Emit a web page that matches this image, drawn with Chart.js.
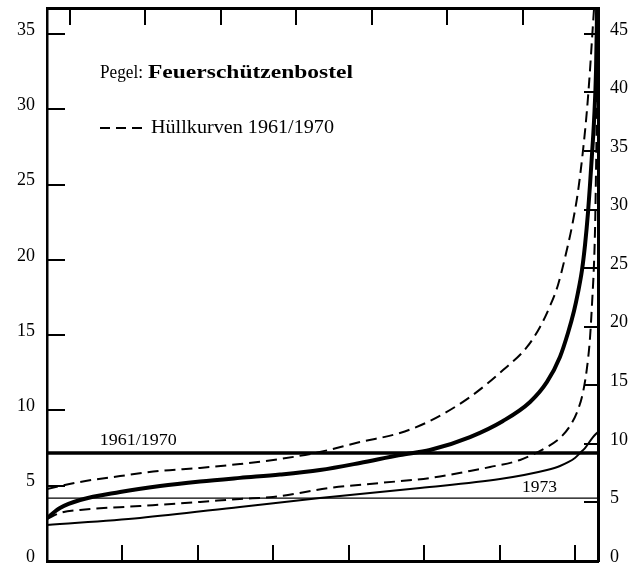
<!DOCTYPE html>
<html>
<head>
<meta charset="utf-8">
<script src="https://cdn.jsdelivr.net/npm/chart.js@4.4.0/dist/chart.umd.min.js"></script>
<style>
  html, body { margin: 0; padding: 0; background: #fff; }
  #wrap { width: 639px; height: 565px; }
</style>
</head>
<body>
<div id="wrap"><canvas id="chart" width="639" height="565"></canvas></div>
<script>
// Dauerlinien Pegel Feuerschützenbostel, x = Tage im Jahr, y = Abfluss (linke Achse)

const meanDays = [0, 8.6, 21.9, 48.4, 74.9, 101.4, 127.8, 154.3, 180.8, 207.3, 233.8, 253.7, 280.2, 302.1, 320.0, 331.2, 339.8, 345.1, 349.1, 351.7, 354.4, 356.4, 358.4, 359.7, 361.0, 362.4, 363.7, 364.4];
const meanFlow = [2.86, 3.52, 4.05, 4.58, 4.98, 5.28, 5.52, 5.74, 6.04, 6.51, 7.04, 7.37, 8.23, 9.30, 10.56, 11.89, 13.55, 15.14, 16.60, 17.80, 19.32, 20.98, 23.17, 24.97, 26.96, 29.28, 32.60, 36.72];

const upperDays = [0, 21.9, 48.4, 74.9, 101.4, 127.8, 154.3, 180.8, 207.3, 233.8, 253.7, 280.2, 302.1, 318.0, 326.6, 333.2, 338.5, 343.1, 347.8, 351.7, 355.1, 357.7, 359.7, 361.0, 362.4];
const upperFlow = [4.78, 5.25, 5.64, 5.98, 6.18, 6.44, 6.77, 7.24, 7.90, 8.50, 9.30, 10.89, 12.68, 14.21, 15.54, 16.93, 18.33, 20.12, 22.24, 24.50, 27.29, 29.95, 32.60, 34.60, 36.72];

const lowerDays = [0, 8.6, 21.9, 61.6, 101.4, 127.8, 149.7, 187.5, 220.6, 253.7, 280.2, 293.5, 313.4, 331.2, 339.8, 346.4, 351.7, 355.1, 357.7, 359.7, 361.0, 362.4, 363.1, 363.7, 364.4, 365];
const lowerFlow = [2.79, 3.19, 3.39, 3.65, 3.92, 4.12, 4.25, 4.85, 5.18, 5.51, 5.98, 6.24, 6.71, 7.57, 8.17, 8.96, 10.03, 11.22, 12.82, 14.81, 17.0, 19.85, 22.31, 25.96, 31.27, 36.72];

const days1973 = [0, 61.6, 127.8, 180.8, 247.1, 300.1, 331.2, 339.8, 349.7, 353.1, 356.4, 361.7, 365];
const flow1973 = [2.39, 2.86, 3.59, 4.18, 4.85, 5.44, 6.04, 6.31, 6.84, 7.17, 7.50, 8.23, 8.57];

const meanLine6170 = 7.17;
const meanLine1973 = 4.18;

const leftTicks = [0, 5, 10, 15, 20, 25, 30, 35];
const rightTicks = [0, 5, 10, 15, 20, 25, 30, 35, 40, 45];
const bottomTicks = [50, 100, 150, 200, 250, 300, 350];
const topTicks = [15, 65, 115, 165, 215, 265, 315];

function pts(xs, ys) {
  return xs.map((x, i) => ({ x: x, y: ys[i] }));
}

const serif = '"Liberation Serif", "DejaVu Serif", serif';

// draws inward tick marks, legend and curve labels
const decorations = {
  id: 'decorations',
  afterDraw(chart) {
    const { ctx, chartArea: a, scales } = chart;
    ctx.save();
    ctx.strokeStyle = '#000';
    ctx.fillStyle = '#000';
    ctx.lineWidth = 2;
    const seg = (x1, y1, x2, y2) => {
      ctx.beginPath();
      ctx.moveTo(x1, y1);
      ctx.lineTo(x2, y2);
      ctx.stroke();
    };
    bottomTicks.forEach(d => {
      const x = Math.round(scales.x.getPixelForValue(d));
      seg(x, a.bottom, x, a.bottom - 16);
    });
    topTicks.forEach(d => {
      const x = Math.round(scales.x.getPixelForValue(d));
      seg(x, a.top, x, a.top + 17);
    });
    leftTicks.slice(1).forEach(v => {
      const y = Math.round(scales.y.getPixelForValue(v));
      seg(a.left, y, a.left + 18, y);
    });
    rightTicks.slice(1).forEach(v => {
      const y = Math.round(scales.y2.getPixelForValue(v));
      seg(a.right, y, a.right - 14, y);
    });

    // legend
    const stretched = (text, font, x, y, width) => {
      ctx.font = font;
      const w = ctx.measureText(text).width;
      ctx.save();
      ctx.translate(x, y);
      ctx.scale(width / w, 1);
      ctx.fillText(text, 0, 0);
      ctx.restore();
    };
    ctx.textBaseline = 'middle';
    ctx.textAlign = 'left';
    stretched('Pegel:', '18px ' + serif, 100, 73, 43);
    stretched('Feuerschützenbostel', 'bold 18px ' + serif, 148, 73, 205);
    ctx.setLineDash([10, 6]);
    seg(100, 128, 146, 128);
    ctx.setLineDash([]);
    stretched('Hüllkurven 1961/1970', '18px ' + serif, 151, 128, 183);

    // curve labels
    stretched('1961/1970', '17px ' + serif, scales.x.getPixelForValue(35), scales.y.getPixelForValue(8.0), 77);
    stretched('1973', '17px ' + serif, scales.x.getPixelForValue(314.6), scales.y.getPixelForValue(4.85), 35);
    ctx.restore();
  }
};

const dash = [11, 6];

// fixed box sizes so the plot frame sits where the original has it
function fixBox(size) {
  return s => {
    if (s.isHorizontal()) s.height = size; else s.width = size;
    s.paddingTop = 0;
    s.paddingBottom = 0;
    s.paddingLeft = 0;
    s.paddingRight = 0;
  };
}

new Chart(document.getElementById('chart'), {
  type: 'line',
  data: {
    datasets: [
      { data: pts([0, 365], [meanLine6170, meanLine6170]), borderColor: '#000', borderWidth: 3.5, tension: 0 },
      { data: pts([0, 365], [meanLine1973, meanLine1973]), borderColor: '#000', borderWidth: 1.2, tension: 0 },
      { data: pts(upperDays, upperFlow), borderColor: '#000', borderWidth: 2, borderDash: dash },
      { data: pts(lowerDays, lowerFlow), borderColor: '#000', borderWidth: 2, borderDash: dash },
      { data: pts(days1973, flow1973), borderColor: '#000', borderWidth: 2 },
      { data: pts(meanDays, meanFlow), borderColor: '#000', borderWidth: 4 }
    ]
  },
  options: {
    responsive: false,
    animation: false,
    layout: { padding: 0 },
    elements: {
      point: { radius: 0 },
      line: { cubicInterpolationMode: 'monotone', fill: false }
    },
    plugins: {
      legend: { display: false },
      tooltip: { enabled: false }
    },
    scales: {
      x: {
        type: 'linear',
        position: 'bottom',
        min: 0,
        max: 365,
        ticks: { display: false },
        grid: { display: false },
        border: { display: true, color: '#000', width: 3 },
        afterFit: fixBox(4)
      },
      x2: {
        type: 'linear',
        position: 'top',
        min: 0,
        max: 365,
        ticks: { display: false },
        grid: { display: false },
        border: { display: true, color: '#000', width: 3 },
        afterFit: fixBox(8)
      },
      y: {
        type: 'linear',
        position: 'left',
        min: 0,
        max: 36.72,
        afterBuildTicks: s => { s.ticks = leftTicks.map(v => ({ value: v })); },
        ticks: { color: '#000', padding: 12, labelOffset: -4, font: { family: serif, size: 18 } },
        grid: { display: false, drawTicks: false },
        border: { display: true, color: '#000', width: 2.5 },
        afterFit: fixBox(47)
      },
      y2: {
        type: 'linear',
        position: 'right',
        min: 0,
        max: 47.2,
        afterBuildTicks: s => { s.ticks = rightTicks.map(v => ({ value: v })); },
        ticks: { color: '#000', padding: 12, labelOffset: -4, font: { family: serif, size: 18 } },
        grid: { display: false, drawTicks: false },
        border: { display: true, color: '#000', width: 3 },
        afterFit: fixBox(41)
      }
    }
  },
  plugins: [decorations]
});
</script>
</body>
</html>
